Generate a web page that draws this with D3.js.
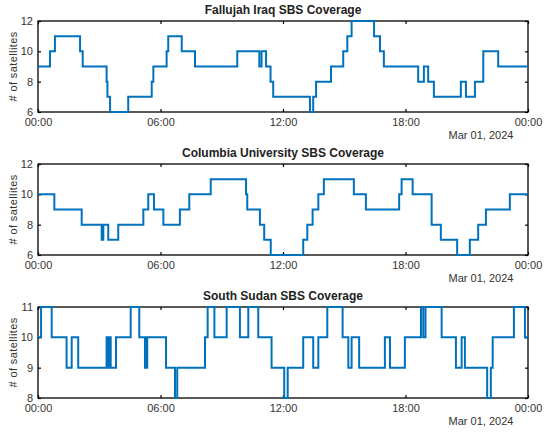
<!DOCTYPE html>
<html>
<head>
<meta charset="utf-8">
<script src="https://cdn.jsdelivr.net/npm/d3@7"></script>
<style>
  body { margin: 0; background: #fff; }
  svg { font-family: "Liberation Sans", Arial, sans-serif; }
  .tick text { fill: #333; font-size: 11px; }
  .tick line { stroke: #000; stroke-width: 1.2; }
  .domain { display: none; }
</style>
</head>
<body>
<div id="chart"></div>
<script>
// step data: hour of change -> number of satellites from that hour on
var fallujahHours = [0, 0.59, 0.83, 2.06, 2.19, 3.36, 3.40, 3.53, 4.42, 5.57, 5.65, 6.30, 6.38, 7.04, 7.69,
  9.76, 10.84, 10.95, 11.17, 11.39, 11.52, 13.32, 13.48, 13.62, 14.35, 14.95, 15.15, 15.36, 16.46, 16.75,
  16.94, 18.62, 18.90, 19.11, 19.39, 20.71, 20.96, 21.40, 21.81, 22.54, 24];
var fallujahSats = [9, 10, 11, 10, 9, 8, 7, 6, 7, 8, 9, 10, 11, 10, 9,
  10, 9, 10, 9, 8, 7, 6, 7, 8, 9, 10, 11, 12, 11, 10,
  9, 8, 9, 8, 7, 8, 7, 8, 10, 9, 9];

var columbiaHours = [0, 0.80, 2.14, 3.12, 3.20, 3.44, 3.93, 5.16, 5.40, 5.68, 6.14, 6.95, 7.41, 8.46,
  10.19, 10.25, 10.87, 11.08, 11.40, 12.99, 13.19, 13.45, 13.73, 14.00, 15.47, 16.06, 17.69, 17.81,
  18.35, 19.28, 19.73, 20.53, 21.15, 21.56, 21.94, 23.11, 24];
var columbiaSats = [10, 9, 8, 7, 8, 7, 8, 9, 10, 9, 8, 9, 10, 11,
  10, 9, 8, 7, 6, 7, 8, 9, 10, 11, 10, 9, 10, 11,
  10, 8, 7, 6, 7, 8, 9, 10, 10];

var sudanHours = [0, 0.15, 0.67, 1.40, 1.65, 1.97, 3.36, 3.45, 3.50, 3.56, 3.82, 4.54, 4.96, 5.24, 5.28,
  5.31, 5.35, 6.27, 6.71, 6.82, 8.18, 8.31, 8.64, 9.24, 9.89, 10.30, 10.79, 11.44, 12.06, 12.23, 12.99,
  13.48, 13.73, 14.17, 14.92, 15.20, 15.36, 15.73, 16.99, 17.24, 17.97, 18.76, 18.87, 18.98, 19.77,
  20.47, 20.75, 20.91, 22.00, 22.18, 22.27, 23.31, 23.85, 24];
var sudanSats = [10, 11, 10, 9, 10, 9, 10, 9, 10, 9, 10, 11, 10, 9, 10,
  9, 10, 9, 8, 9, 10, 11, 10, 11, 10, 11, 10, 9, 8, 9, 10,
  9, 10, 11, 10, 9, 10, 9, 10, 9, 10, 11, 10, 11, 10,
  9, 10, 9, 8, 9, 10, 11, 10, 10];

var panelTitles = ["Fallujah Iraq SBS Coverage", "Columbia University SBS Coverage", "South Sudan SBS Coverage"];
var yTicks1 = [6, 8, 10, 12];
var yTicks2 = [6, 8, 10, 12];
var yTicks3 = [8, 9, 10, 11];
var hourTicks = [0, 6, 12, 18, 24];
var dateLabel = "Mar 01, 2024";
var yLabel = "# of satellites";

var panels = [
  {title: panelTitles[0], hours: fallujahHours, sats: fallujahSats, ticks: yTicks1},
  {title: panelTitles[1], hours: columbiaHours, sats: columbiaSats, ticks: yTicks2},
  {title: panelTitles[2], hours: sudanHours, sats: sudanSats, ticks: yTicks3}
];

var W = 550, H = 432;
var left = 38, plotW = 490, plotH = 91;
var tops = [21, 164, 307];
var day0 = new Date(2024, 2, 1);
function hourDate(h) { return new Date(+day0 + h * 3600e3); }

var svg = d3.select("#chart").append("svg")
  .attr("width", W).attr("height", H);

panels.forEach(function(p, i) {
  var g = svg.append("g").attr("transform", "translate(" + left + "," + tops[i] + ")");

  var x = d3.scaleTime().domain([hourDate(0), hourDate(24)]).range([0, plotW]);
  var y = d3.scaleLinear().domain(d3.extent(p.ticks)).range([plotH, 0]);
  var tickDates = hourTicks.map(hourDate);

  g.append("g").attr("transform", "translate(0," + plotH + ")")
    .call(d3.axisBottom(x).tickValues(tickDates).tickFormat(d3.timeFormat("%H:%M"))
      .tickSizeInner(-3).tickSizeOuter(0).tickPadding(6));
  g.append("g")
    .call(d3.axisTop(x).tickValues(tickDates).tickFormat("").tickSizeInner(-3).tickSizeOuter(0));
  g.append("g")
    .call(d3.axisLeft(y).tickValues(p.ticks).tickFormat(d3.format("d"))
      .tickSizeInner(-3).tickSizeOuter(0).tickPadding(5));
  g.append("g").attr("transform", "translate(" + plotW + ",0)")
    .call(d3.axisRight(y).tickValues(p.ticks).tickFormat("").tickSizeInner(-3).tickSizeOuter(0));

  g.append("rect")
    .attr("width", plotW).attr("height", plotH)
    .attr("fill", "none").attr("stroke", "#000").attr("stroke-width", 1.3);

  var pts = p.hours.map(function(h, k) { return [hourDate(h), p.sats[k]]; });
  var line = d3.line()
    .x(function(d) { return x(d[0]); })
    .y(function(d) { return y(d[1]); })
    .curve(d3.curveStepAfter);
  g.append("path").datum(pts)
    .attr("d", line)
    .attr("fill", "none")
    .attr("stroke", "#0072BD")
    .attr("stroke-width", 2);

  g.append("text")
    .attr("x", plotW / 2).attr("y", -7)
    .attr("text-anchor", "middle")
    .style("font-size", "12px").style("font-weight", "bold").style("fill", "#222")
    .text(p.title);

  g.append("text")
    .attr("transform", "translate(" + (-25) + "," + (plotH / 2) + ") rotate(-90)")
    .attr("text-anchor", "middle")
    .attr("dy", "0.35em")
    .style("font-size", "11px").style("fill", "#333").style("letter-spacing", "0.4px")
    .text(yLabel);

  g.append("text")
    .attr("x", plotW - 47).attr("y", plotH + 27)
    .attr("text-anchor", "middle")
    .style("font-size", "11px").style("fill", "#333")
    .text(dateLabel);
});
</script>
</body>
</html>
